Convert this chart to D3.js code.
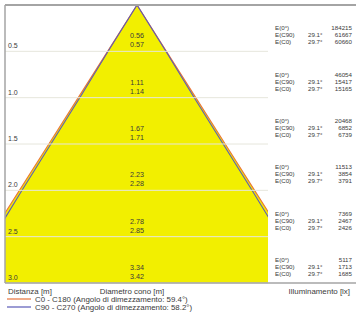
<!DOCTYPE html>
<html><head><meta charset="utf-8">
<script src="https://cdn.jsdelivr.net/npm/d3@7"></script>
<style>body{margin:0;background:#fff}svg{display:block}text{font-family:"Liberation Sans",Arial,sans-serif;fill:#3a3a3a}</style>
</head><body><svg id="c" width="356" height="322"></svg>
<script>
const distances = [0.5, 1.0, 1.5, 2.0, 2.5, 3.0];
const distanceLabels = ["0.5", "1.0", "1.5", "2.0", "2.5", "3.0"];
const diamC90 = [0.56, 1.11, 1.67, 2.23, 2.78, 3.34];
const diamC0 = [0.57, 1.14, 1.71, 2.28, 2.85, 3.42];
const eCenter = [184215, 46054, 20468, 11513, 7369, 5117];
const eC90 = [61667, 15417, 6852, 3854, 2467, 1713];
const eC0 = [60660, 15165, 6739, 3791, 2426, 1685];
const angleC90 = "29.1°", angleC0 = "29.7°";
const legendItems = [
  {label: "C0 - C180 (Angolo di dimezzamento: 59.4°)", color: "#e8743b"},
  {label: "C90 - C270 (Angolo di dimezzamento: 58.2°)", color: "#5b5bb8"}
];

const svg = d3.select("#c");
const L = 5, R = 268, T = 5, B = 283, W = 356;
const y = d3.scaleLinear().domain([0, 3]).range([T, B]);
const x = d3.scaleLinear().domain([-1.28, 1.27]).range([L, R]);

svg.append("clipPath").attr("id", "pc").append("rect")
  .attr("x", L).attr("y", T).attr("width", R - L).attr("height", B - T);
const g = svg.append("g").attr("clip-path", "url(#pc)");

function cone(diams) {
  const pts = [[0, 0]].concat(distances.map((d, i) => [d, diams[i] / 2]));
  const left = pts.map(p => [x(-p[1]), y(p[0])]);
  const right = pts.map(p => [x(p[1]), y(p[0])]).reverse();
  return {left, right};
}
const c0 = cone(diamC0), c90 = cone(diamC90);
g.append("path").attr("d", d3.line()(c0.left.concat(c0.right)) + "Z")
  .attr("fill", "#f2ef00").attr("stroke", "none");

// grid lines
svg.selectAll(".gl").data(distances).enter().append("line")
  .attr("x1", L).attr("x2", R).attr("y1", d => y(d)).attr("y2", d => y(d))
  .attr("stroke", "#e6e6dc").attr("stroke-width", 1);

[[c0, legendItems[0].color], [c90, legendItems[1].color]].forEach(([c, col]) => {
  g.append("path").attr("d", d3.line()(c.left)).attr("fill", "none").attr("stroke", col).attr("stroke-width", 1.1);
  g.append("path").attr("d", d3.line()(c.right)).attr("fill", "none").attr("stroke", col).attr("stroke-width", 1.1);
});

// frame
svg.append("line").attr("x1", L).attr("x2", W).attr("y1", T).attr("y2", T).attr("stroke", "#a4a4a4").attr("stroke-width", 2);
svg.append("line").attr("x1", L).attr("x2", L).attr("y1", T).attr("y2", B).attr("stroke", "#a4a4a4").attr("stroke-width", 1.5);
svg.append("line").attr("x1", L).attr("x2", W).attr("y1", B).attr("y2", B).attr("stroke", "#a4a4a4").attr("stroke-width", 1.5);

// distance labels
svg.selectAll(".dl").data(distances).enter().append("text")
  .attr("x", 8).attr("y", d => y(d) - 3).attr("font-size", 7).text((d, i) => distanceLabels[i]);

// diameter labels
const cx = x(0);
distances.forEach((d, i) => {
  svg.append("text").attr("x", cx).attr("y", y(d) - 13).attr("text-anchor", "middle").attr("font-size", 7.2).text(diamC90[i].toFixed(2));
  svg.append("text").attr("x", cx).attr("y", y(d) - 4).attr("text-anchor", "middle").attr("font-size", 7.2).text(diamC0[i].toFixed(2));
});

// illuminance panel
distances.forEach((d, i) => {
  const y0 = y(d) - 21;
  const rows = [["E(0°)", "", eCenter[i]], ["E(C90)", angleC90, eC90[i]], ["E(C0)", angleC0, eC0[i]]];
  rows.forEach((r, j) => {
    const yy = y0 + j * 7;
    svg.append("text").attr("x", 275).attr("y", yy).attr("font-size", 6.2).text(r[0]);
    if (r[1]) svg.append("text").attr("x", 308).attr("y", yy).attr("font-size", 6.2).text(r[1]);
    svg.append("text").attr("x", 352).attr("y", yy).attr("text-anchor", "end").attr("font-size", 6.2).text(r[2]);
  });
});

// axis titles
svg.append("text").attr("x", 8).attr("y", 294).attr("font-size", 7.9).text("Distanza [m]");
svg.append("text").attr("x", 132).attr("y", 294).attr("text-anchor", "middle").attr("font-size", 7.9).text("Diametro cono [m]");
svg.append("text").attr("x", 350).attr("y", 294).attr("text-anchor", "end").attr("font-size", 7.9).text("Illuminamento [lx]");

legendItems.forEach((it, i) => {
  const yy = 299 + i * 8;
  svg.append("line").attr("x1", 7).attr("x2", 31).attr("y1", yy).attr("y2", yy).attr("stroke", it.color).attr("stroke-width", 1.2);
  svg.append("text").attr("x", 35).attr("y", yy + 2.6).attr("font-size", 7.9).text(it.label);
});
</script></body></html>
